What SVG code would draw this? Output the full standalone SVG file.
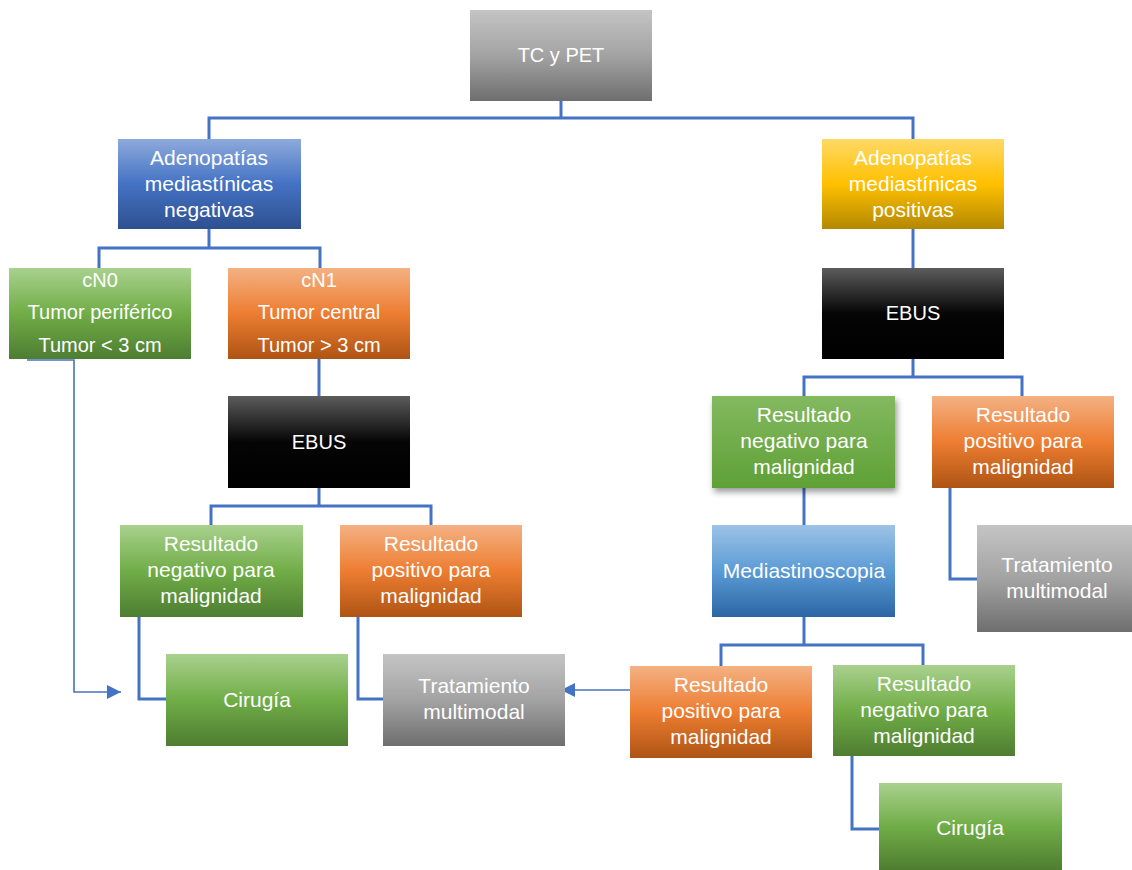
<svg xmlns="http://www.w3.org/2000/svg" width="1132" height="870" viewBox="0 0 1132 870">
<defs>
<linearGradient id="gGray" x1="0" y1="0" x2="0" y2="1"><stop offset="0" stop-color="#c4c4c4"/><stop offset="0.5" stop-color="#a3a3a3"/><stop offset="1" stop-color="#6e6e6e"/></linearGradient>
<linearGradient id="gBlue" x1="0" y1="0" x2="0" y2="1"><stop offset="0" stop-color="#8eaadc"/><stop offset="0.5" stop-color="#4472c4"/><stop offset="1" stop-color="#2e5090"/></linearGradient>
<linearGradient id="gGold" x1="0" y1="0" x2="0" y2="1"><stop offset="0" stop-color="#ffd966"/><stop offset="0.5" stop-color="#ffc000"/><stop offset="1" stop-color="#b38800"/></linearGradient>
<linearGradient id="gBlack" x1="0" y1="0" x2="0" y2="1"><stop offset="0" stop-color="#5c5c5c"/><stop offset="0.5" stop-color="#050505"/><stop offset="1" stop-color="#000000"/></linearGradient>
<linearGradient id="gGreen" x1="0" y1="0" x2="0" y2="1"><stop offset="0" stop-color="#a9d18e"/><stop offset="0.5" stop-color="#70ad47"/><stop offset="1" stop-color="#4e7d31"/></linearGradient>
<linearGradient id="gGreen2" x1="0" y1="0" x2="0" y2="1"><stop offset="0" stop-color="#83b960"/><stop offset="1" stop-color="#5fa036"/></linearGradient>
<linearGradient id="gOrange" x1="0" y1="0" x2="0" y2="1"><stop offset="0" stop-color="#f4b183"/><stop offset="0.5" stop-color="#ed7d31"/><stop offset="1" stop-color="#ae5414"/></linearGradient>
<linearGradient id="gLBlue" x1="0" y1="0" x2="0" y2="1"><stop offset="0" stop-color="#9dc3e6"/><stop offset="0.5" stop-color="#5b9bd5"/><stop offset="1" stop-color="#2b66a3"/></linearGradient>
<filter id="shadow" x="-10%" y="-10%" width="130%" height="140%"><feDropShadow dx="2" dy="4" stdDeviation="3" flood-color="#000" flood-opacity="0.4"/></filter>
<marker id="arr" viewBox="0 0 10 10" refX="10" refY="5" markerWidth="14" markerHeight="14" markerUnits="userSpaceOnUse" orient="auto"><path d="M0,0 L10,5 L0,10 z" fill="#4472c4"/></marker>
</defs>
<style>
.t{font-family:"Liberation Sans",Arial,sans-serif;font-size:21px;fill:#ffffff;text-anchor:middle}
.s{font-size:20px}
.c{fill:none;stroke:#4472c4;stroke-width:3}
.a{fill:none;stroke:#4472c4;stroke-width:1.6}
</style>
<rect width="1132" height="870" fill="#ffffff"/>
<g id="connectors">
<path class="c" d="M561,101 V118 M209,139 V118 H913 V139"/>
<path class="c" d="M209,229 V248 M99,268 V248 H320 V268"/>
<path class="c" d="M319,359 V396"/>
<path class="c" d="M319,488 V506 M211,525 V506 H431 V525"/>
<path class="c" d="M139,617 V699 H166"/>
<path class="c" d="M358,617 V699 H383"/>
<path class="c" d="M913,229 V268"/>
<path class="c" d="M913,359 V377 M804,396 V377 H1022 V396"/>
<path class="c" d="M804,488 V525"/>
<path class="c" d="M950,488 V579 H977"/>
<path class="c" d="M804,617 V645 M721,666 V645 H923 V665"/>
<path class="c" d="M852,756 V829 H879"/>
<path class="a" d="M27,360 H74 V692 H121" marker-end="url(#arr)"/>
<path class="a" d="M630,690 H561" marker-end="url(#arr)"/>
</g>
<g id="n-tcpet"><rect x="470" y="10" width="182" height="91" fill="url(#gGray)"/><text class="t s" x="561" y="62">TC y PET</text></g>
<g id="n-adneg"><rect x="118" y="139" width="183" height="90" fill="url(#gBlue)"/><text class="t" x="209" y="165">Adenopatías</text><text class="t" x="209" y="191">mediastínicas</text><text class="t" x="209" y="217">negativas</text></g>
<g id="n-adpos"><rect x="822" y="139" width="182" height="90" fill="url(#gGold)"/><text class="t" x="913" y="165">Adenopatías</text><text class="t" x="913" y="191">mediastínicas</text><text class="t" x="913" y="217">positivas</text></g>
<g id="n-cn0"><rect x="9" y="268" width="182" height="91" fill="url(#gGreen)"/><text class="t s" x="100" y="287">cN0</text><text class="t s" x="100" y="319">Tumor periférico</text><text class="t s" x="100" y="352">Tumor &lt; 3 cm</text></g>
<g id="n-cn1"><rect x="228" y="268" width="182" height="91" fill="url(#gOrange)"/><text class="t s" x="319" y="287">cN1</text><text class="t s" x="319" y="319">Tumor central</text><text class="t s" x="319" y="352">Tumor &gt; 3 cm</text></g>
<g id="n-ebus1"><rect x="228" y="396" width="182" height="92" fill="url(#gBlack)"/><text class="t s" x="319" y="449">EBUS</text></g>
<g id="n-ebus2"><rect x="822" y="268" width="182" height="91" fill="url(#gBlack)"/><text class="t s" x="913" y="320">EBUS</text></g>
<g id="n-resneg1"><rect x="120" y="525" width="183" height="92" fill="url(#gGreen)"/><text class="t" x="211" y="551">Resultado</text><text class="t" x="211" y="577">negativo para</text><text class="t" x="211" y="603">malignidad</text></g>
<g id="n-respos1"><rect x="340" y="525" width="182" height="92" fill="url(#gOrange)"/><text class="t" x="431" y="551">Resultado</text><text class="t" x="431" y="577">positivo para</text><text class="t" x="431" y="603">malignidad</text></g>
<g id="n-cirugia1"><rect x="166" y="654" width="182" height="92" fill="url(#gGreen)"/><text class="t" x="257" y="707">Cirugía</text></g>
<g id="n-trat1"><rect x="383" y="654" width="182" height="92" fill="url(#gGray)"/><text class="t" x="474" y="693">Tratamiento</text><text class="t" x="474" y="719">multimodal</text></g>
<g id="n-resneg2"><rect x="712" y="396" width="183" height="92" fill="url(#gGreen2)" filter="url(#shadow)"/><text class="t" x="804" y="422">Resultado</text><text class="t" x="804" y="448">negativo para</text><text class="t" x="804" y="474">malignidad</text></g>
<g id="n-respos2"><rect x="932" y="396" width="182" height="92" fill="url(#gOrange)"/><text class="t" x="1023" y="422">Resultado</text><text class="t" x="1023" y="448">positivo para</text><text class="t" x="1023" y="474">malignidad</text></g>
<g id="n-trat2"><rect x="977" y="525" width="157" height="107" fill="url(#gGray)"/><text class="t" x="1057" y="572">Tratamiento</text><text class="t" x="1057" y="598">multimodal</text></g>
<g id="n-medias"><rect x="712" y="525" width="183" height="92" fill="url(#gLBlue)"/><text class="t" x="804" y="578">Mediastinoscopia</text></g>
<g id="n-respos3"><rect x="630" y="666" width="182" height="92" fill="url(#gOrange)"/><text class="t" x="721" y="692">Resultado</text><text class="t" x="721" y="718">positivo para</text><text class="t" x="721" y="744">malignidad</text></g>
<g id="n-resneg3"><rect x="833" y="665" width="182" height="91" fill="url(#gGreen)"/><text class="t" x="924" y="691">Resultado</text><text class="t" x="924" y="717">negativo para</text><text class="t" x="924" y="743">malignidad</text></g>
<g id="n-cirugia2"><rect x="879" y="783" width="183" height="87" fill="url(#gGreen)"/><text class="t" x="970" y="835">Cirugía</text></g>
</svg>
